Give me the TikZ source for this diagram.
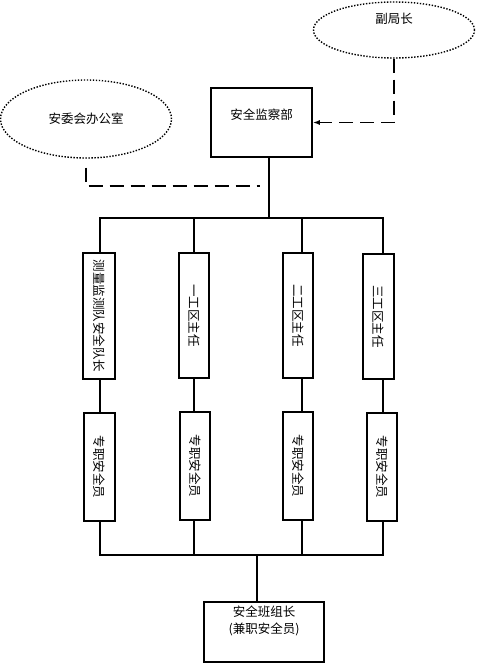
\documentclass[tikz,border=0pt]{standalone}
\usepackage{fontspec}
\newfontfamily\cjk{Noto Sans CJK SC}
\usepackage{tikz}
\usetikzlibrary{positioning,arrows.meta,shapes.geometric,calc}

\begin{document}
\begin{tikzpicture}[x=1pt, y=-1pt,
  font=\cjk\fontsize{12.5}{17}\selectfont,
  box/.style={draw, line width=1.6pt, inner sep=0pt},
  oval/.style={draw, ellipse, line width=1.4pt, dash pattern=on 1.4pt off 1.6pt, inner sep=0pt},
  link/.style={line width=1.8pt},
  dashlink/.style={line width=1.8pt, dash pattern=on 14pt off 7pt}]
  \useasboundingbox (0,0) rectangle (476,663);

  % Top: leaders
  \node[oval, minimum width=161, minimum height=56, text depth=24pt] (fjz) at (394,30) {副局长};
  \node[oval, minimum width=171, minimum height=78] (awh) at (86,119) {安委会办公室};
  \node[box, minimum width=101, minimum height=69, text depth=16pt] (jcb) at (261.5,122.5) {安全监察部};

  \draw[dashlink, -{Latex[length=7pt,width=5pt]}] (fjz.south) |- (jcb.east);
  \coordinate (awhend) at (260,186);
  \draw[dashlink] ([yshift=-9]awh.south) |- (awhend);

  % Distribution bus
  \coordinate (hub) at (269,218);
  \draw[link] (hub |- jcb.south) -- (hub);

  % Column heads
  \node[box, minimum width=32, minimum height=126] (dz1) at (99,316) {\rotatebox{-90}{测量监测队安全队长}};
  \node[box, minimum width=30, minimum height=125] (dz2) at (194,315.5) {\rotatebox{-90}{一工区主任}};
  \node[box, minimum width=30, minimum height=125] (dz3) at (298,315.5) {\rotatebox{-90}{二工区主任}};
  \node[box, minimum width=31, minimum height=125] (dz4) at (378.5,316.5) {\rotatebox{-90}{三工区主任}};

  \draw[link] (dz1.north -| 100,0) |- (hub) -| (dz4.north -| 383,0);
  \draw[link] (dz2.north) -- (dz2.north |- hub);
  \draw[link] (dz3.north -| 302,0) -- (hub -| 302,0);

  % Full-time safety officers
  \node[box, minimum width=31, minimum height=108] (aq1) at (99.5,467) {\rotatebox{-90}{专职安全员}};
  \node[box, minimum width=30, minimum height=108] (aq2) at (195,466) {\rotatebox{-90}{专职安全员}};
  \node[box, minimum width=30, minimum height=108] (aq3) at (298,466) {\rotatebox{-90}{专职安全员}};
  \node[box, minimum width=30, minimum height=108] (aq4) at (382,467) {\rotatebox{-90}{专职安全员}};

  \draw[link] (dz1.south -| 100,0) -- (aq1.north -| 100,0);
  \draw[link] (dz2.south) -- (aq2.north -| dz2.south);
  \draw[link] (dz3.south -| 302,0) -- (aq3.north -| 302,0);
  \draw[link] (dz4.south -| 383,0) -- (aq4.north -| 383,0);

  % Bottom bus
  \coordinate (hub2) at (257,555);
  \draw[link] (aq1.south -| 100,0) |- (hub2) -| (aq4.south -| 383,0);
  \draw[link] (aq2.south -| 194,0) -- (hub2 -| 194,0);
  \draw[link] (aq3.south -| 302,0) -- (hub2 -| 302,0);

  \node[box, minimum width=120, minimum height=60, align=center, text depth=24pt] (bzz) at (264,632) {安全班组长\\(兼职安全员)};
  \draw[link] (hub2) -- (hub2 |- bzz.north);

\end{tikzpicture}
\end{document}
